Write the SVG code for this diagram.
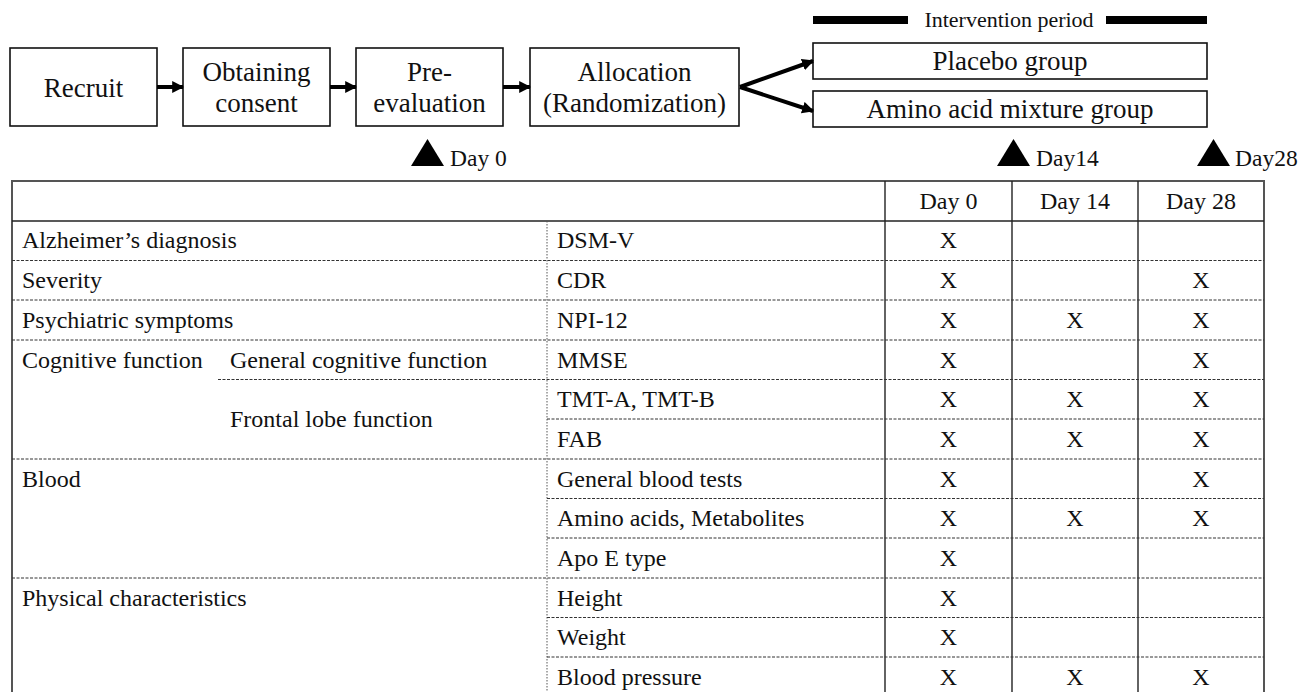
<svg xmlns="http://www.w3.org/2000/svg" width="1299" height="692" viewBox="0 0 1299 692">
<style>
text{font-family:"Liberation Serif","Times New Roman",serif;fill:#111}
.bx{fill:#fff;stroke:#111;stroke-width:1.6}
.bt{font-size:27px;text-anchor:middle}
.gt{font-size:27px;text-anchor:middle}
.dt{font-size:23.5px}
.tt{font-size:24px}
.tc{font-size:24px;text-anchor:middle}
.arr{stroke:#000;stroke-width:4;fill:none;marker-end:url(#ah)}
.sol{stroke:#222;stroke-width:1.4}
.out{stroke:#555;stroke-width:2}
.dsh{stroke:#333;stroke-width:1;stroke-dasharray:3 1.5}
.dot{stroke:#555;stroke-width:1;stroke-dasharray:1.5 1.5}
</style>
<defs>
<marker id="ah" viewBox="0 0 10 10" refX="9" refY="5" markerWidth="12" markerHeight="13" markerUnits="userSpaceOnUse" orient="auto">
<path d="M0,0 L10,5 L0,10 z" fill="#000"/>
</marker>
</defs>
<rect width="1299" height="692" fill="#fff"/>

<g id="intervention">
<rect x="813" y="16" width="95" height="8" fill="#000"/>
<rect x="1106" y="16" width="101" height="8" fill="#000"/>
<text x="1009" y="27" font-size="22" text-anchor="middle">Intervention period</text>
</g>

<g id="recruit"><rect class="bx" x="10" y="48" width="147" height="78"/><text class="bt" x="83.5" y="97">Recruit</text></g>
<g id="consent"><rect class="bx" x="183" y="48" width="147" height="78"/><text class="bt" x="256.5" y="81">Obtaining</text><text class="bt" x="256.5" y="112">consent</text></g>
<g id="preeval"><rect class="bx" x="356" y="48" width="147" height="78"/><text class="bt" x="429.5" y="81">Pre-</text><text class="bt" x="429.5" y="112">evaluation</text></g>
<g id="allocation"><rect class="bx" x="530" y="48" width="209" height="78"/><text class="bt" x="634.5" y="81">Allocation</text><text class="bt" x="634.5" y="112">(Randomization)</text></g>
<g id="placebo"><rect class="bx" x="813" y="43" width="394" height="36"/><text class="gt" x="1010" y="70">Placebo group</text></g>
<g id="amino"><rect class="bx" x="813" y="91" width="394" height="36"/><text class="gt" x="1010" y="118">Amino acid mixture group</text></g>

<g id="connectors">
<line class="arr" x1="157" y1="87" x2="183" y2="87"/>
<line class="arr" x1="330" y1="87" x2="356" y2="87"/>
<line class="arr" x1="503" y1="87" x2="530" y2="87"/>
<line class="arr" x1="740" y1="87" x2="813" y2="61"/>
<line class="arr" x1="740" y1="87" x2="813" y2="111"/>
</g>

<g id="markers">
<polygon points="411,166 427.5,139 444,166" fill="#000"/><text class="dt" x="450" y="166">Day 0</text>
<polygon points="997,166 1013.5,139 1030,166" fill="#000"/><text class="dt" x="1036" y="166">Day14</text>
<polygon points="1197,166 1213.5,139 1230,166" fill="#000"/><text class="dt" x="1235" y="166">Day28</text>
</g>

<g id="table">
<line class="out" x1="11" y1="181" x2="1265" y2="181"/>
<line class="out" x1="12" y1="181" x2="12" y2="692"/>
<line class="out" x1="1264" y1="181" x2="1264" y2="692"/>
<line class="sol" x1="885" y1="181" x2="885" y2="692"/>
<line class="sol" x1="1012" y1="181" x2="1012" y2="692"/>
<line class="sol" x1="1138" y1="181" x2="1138" y2="692"/>
<line class="sol" x1="12" y1="221" x2="1264" y2="221"/>
<line class="dot" x1="547" y1="221" x2="547" y2="692"/>
<line class="dsh" x1="12" y1="260.5" x2="1264" y2="260.5"/>
<line class="dsh" x1="12" y1="300" x2="1264" y2="300"/>
<line class="dsh" x1="12" y1="340" x2="1264" y2="340"/>
<line class="dsh" x1="218" y1="379.5" x2="1264" y2="379.5"/>
<line class="dsh" x1="547" y1="419" x2="1264" y2="419"/>
<line class="dsh" x1="12" y1="459" x2="1264" y2="459"/>
<line class="dsh" x1="547" y1="498.5" x2="1264" y2="498.5"/>
<line class="dsh" x1="547" y1="538" x2="1264" y2="538"/>
<line class="dsh" x1="12" y1="578" x2="1264" y2="578"/>
<line class="dsh" x1="547" y1="617.5" x2="1264" y2="617.5"/>
<line class="dsh" x1="547" y1="657" x2="1264" y2="657"/>

<text class="tc" x="948.5" y="209">Day 0</text>
<text class="tc" x="1075" y="209">Day 14</text>
<text class="tc" x="1201" y="209">Day 28</text>

<text class="tt" x="22" y="248">Alzheimer’s diagnosis</text>
<text class="tt" x="22" y="288">Severity</text>
<text class="tt" x="22" y="328">Psychiatric symptoms</text>
<text class="tt" x="22" y="368">Cognitive function</text>
<text class="tt" x="230" y="368">General cognitive function</text>
<text class="tt" x="230" y="427">Frontal lobe function</text>
<text class="tt" x="22" y="487">Blood</text>
<text class="tt" x="22" y="606">Physical characteristics</text>

<text class="tt" x="557" y="248">DSM-V</text>
<text class="tt" x="557" y="288">CDR</text>
<text class="tt" x="557" y="328">NPI-12</text>
<text class="tt" x="557" y="368">MMSE</text>
<text class="tt" x="557" y="407">TMT-A, TMT-B</text>
<text class="tt" x="557" y="447">FAB</text>
<text class="tt" x="557" y="487">General blood tests</text>
<text class="tt" x="557" y="526">Amino acids, Metabolites</text>
<text class="tt" x="557" y="566">Apo E type</text>
<text class="tt" x="557" y="606">Height</text>
<text class="tt" x="557" y="645">Weight</text>
<text class="tt" x="557" y="685">Blood pressure</text>

<g id="marks">
<text class="tc" x="948.5" y="248">X</text>
<text class="tc" x="948.5" y="288">X</text><text class="tc" x="1201" y="288">X</text>
<text class="tc" x="948.5" y="328">X</text><text class="tc" x="1075" y="328">X</text><text class="tc" x="1201" y="328">X</text>
<text class="tc" x="948.5" y="368">X</text><text class="tc" x="1201" y="368">X</text>
<text class="tc" x="948.5" y="407">X</text><text class="tc" x="1075" y="407">X</text><text class="tc" x="1201" y="407">X</text>
<text class="tc" x="948.5" y="447">X</text><text class="tc" x="1075" y="447">X</text><text class="tc" x="1201" y="447">X</text>
<text class="tc" x="948.5" y="487">X</text><text class="tc" x="1201" y="487">X</text>
<text class="tc" x="948.5" y="526">X</text><text class="tc" x="1075" y="526">X</text><text class="tc" x="1201" y="526">X</text>
<text class="tc" x="948.5" y="566">X</text>
<text class="tc" x="948.5" y="606">X</text>
<text class="tc" x="948.5" y="645">X</text>
<text class="tc" x="948.5" y="685">X</text><text class="tc" x="1075" y="685">X</text><text class="tc" x="1201" y="685">X</text>
</g>
</g>
</svg>
